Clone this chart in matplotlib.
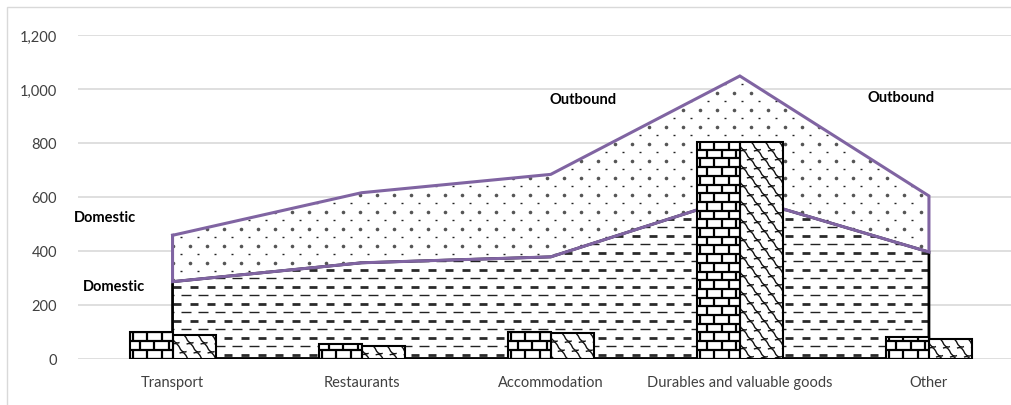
import numpy as np
import matplotlib
matplotlib.use('Agg')
import matplotlib.pyplot as plt
from matplotlib.transforms import IdentityTransform
from matplotlib.collections import LineCollection
from matplotlib.patches import Rectangle
from matplotlib.lines import Line2D
import matplotlib.ticker as mticker

# ---------------- data ----------------
categories = ["Transport", "Restaurants", "Accommodation",
              "Durables and valuable goods", "Other"]
domestic_area = [285, 355, 377, 602, 395]      # lower stacked area
outbound_area = [172, 260, 306, 446, 208]      # upper stacked area
bars_brick = [97, 54, 99, 803, 78]
bars_shingle = [87, 47, 93, 803, 72]
yticks = [0, 200, 400, 600, 800, 1000, 1200]
area_labels = ["Domestic", "Domestic", "Outbound", "Outbound"]

# ---------------- style ----------------
plt.rcParams['font.family'] = ['Lato', 'DejaVu Sans']
PURPLE = '#8064A2'
GRID = '#d9d9d9'
TXT = '#404040'

W, H, DPI = 1011, 406, 100
fig = plt.figure(figsize=(W / DPI, H / DPI), dpi=DPI)
ax = fig.add_axes([78 / W, 46.5 / H, 945.5 / W, 323.5 / H])
ax.set_xlim(-0.5, len(categories) - 0.5)
ax.set_ylim(0, 1200)
ax.autoscale(False)

for s in ax.spines.values():
    s.set_visible(False)
ax.set_yticks(yticks)
ax.yaxis.set_major_formatter(mticker.FuncFormatter(lambda v, p: f"{int(v):,}"))
ax.set_xticks(range(len(categories)))
ax.set_xticklabels(categories)
ax.tick_params(axis='both', length=0, labelsize=10.5, labelcolor=TXT)
ax.tick_params(axis='y', pad=15)
ax.tick_params(axis='x', pad=12)
ax.grid(axis='y', color=GRID, lw=1.2, zorder=0)
ax.set_axisbelow(True)

x = np.arange(len(categories))
dom = np.array(domestic_area, float)
tot = dom + np.array(outbound_area, float)

fig.canvas.draw()
ID = IdentityTransform()


def clip_add(coll, path, trans):
    coll.set_clip_path(path, trans)
    ax.add_collection(coll, autolim=False)


def dash_texture(path, z):
    bb = path.get_extents(ax.transData)
    period, rowh = 17.0, 8.5
    thick, thin = [], []
    r = 0
    y = bb.y0 + 4
    while y < bb.y1 + rowh:
        off = 0 if r % 2 == 0 else period / 2
        xx = bb.x0 - period + off
        while xx < bb.x1 + period:
            if r % 2 == 0:
                thick.append([(xx, y), (xx + 8, y)])
            else:
                thin.append([(xx, y), (xx + 10, y)])
            xx += period
        y += rowh
        r += 1
    clip_add(LineCollection(thick, colors='#2a2a2a', linewidths=2.0,
                            transform=ID, zorder=z), path, ax.transData)
    clip_add(LineCollection(thin, colors='#222222', linewidths=1.0,
                            transform=ID, zorder=z), path, ax.transData)


def dot_texture(path, z):
    bb = path.get_extents(ax.transData)
    period, rowh = 17.0, 8.5
    dots_x, dots_y, small = [], [], []
    r = 0
    y = bb.y0 + 2
    while y < bb.y1 + rowh:
        off = 0 if r % 2 == 0 else period / 2
        xx = bb.x0 - period + off
        while xx < bb.x1 + period:
            if r % 2 == 0:
                dots_x.append(xx)
                dots_y.append(y)
            else:
                small.append([(xx - 1.2, y), (xx + 1.2, y)])
            xx += period
        y += rowh
        r += 1
    ln = Line2D(dots_x, dots_y, ls='none', marker='o', ms=2.6, mfc='#555555',
                mec='#555555', mew=0, transform=ID, zorder=z)
    ln.set_clip_path(path, ax.transData)
    ax.add_line(ln)
    clip_add(LineCollection(small, colors='#222222', linewidths=1.0,
                            transform=ID, zorder=z), path, ax.transData)


def brick_texture(rect, z):
    bb = rect.get_window_extent()
    rowh, bw = 8.7, 14.5
    segs = []
    r = 0
    y = bb.y0
    while y < bb.y1:
        segs.append([(bb.x0 - 2, y), (bb.x1 + 2, y)])
        off = 3 if r % 2 == 0 else 3 + bw / 2
        xx = bb.x0 + off
        while xx < bb.x1:
            segs.append([(xx, y), (xx, y + rowh)])
            xx += bw
        y += rowh
        r += 1
    clip_add(LineCollection(segs, colors='black', linewidths=1.6,
                            transform=ID, zorder=z), rect.get_path(),
             rect.get_transform())


def shingle_texture(rect, z):
    bb = rect.get_window_extent()
    px, py = 14.0, 9.0
    motif = np.array([(0, 0), (2.5, 0.6), (4.5, 0), (6.5, -2.5), (8, -5.5),
                      (10, -7.5), (12.5, -8), (14, -7.4)])
    segs = []
    r = 0
    y = bb.y1 + py
    while y > bb.y0 - 2 * py:
        off = 0 if r % 2 == 0 else px / 2
        xx = bb.x0 - px + off
        while xx < bb.x1 + px:
            segs.append(motif + np.array([xx, y]))
            xx += px
        y -= py
        r += 1
    clip_add(LineCollection(segs, colors='#111111', linewidths=1.0,
                            transform=ID, zorder=z), rect.get_path(),
             rect.get_transform())


# ---------------- areas ----------------
dom_poly = ax.fill_between(x, 0, dom, facecolor='white', edgecolor='none', zorder=1)
out_poly = ax.fill_between(x, dom, tot, facecolor='white', edgecolor='none', zorder=1)
dash_texture(dom_poly.get_paths()[0], 1.1)
dot_texture(out_poly.get_paths()[0], 1.1)

# outlines
ax.plot(np.r_[x[0], x, x[-1], x[::-1], x[0]],
        np.r_[0, dom, 0, np.zeros_like(dom), 0],
        color='black', lw=2.0, zorder=1.5, solid_joinstyle='miter')
ax.plot(np.r_[x, x[::-1], x[0]], np.r_[tot, dom[::-1], tot[0]],
        color=PURPLE, lw=2.2, zorder=1.6, solid_joinstyle='miter')

# ---------------- bars ----------------
bw = 0.2275
b1 = ax.bar(x - bw / 2, bars_brick, width=bw, color='white', edgecolor='none', zorder=3)
b2 = ax.bar(x + bw / 2, bars_shingle, width=bw, color='white', edgecolor='none', zorder=3)
fig.canvas.draw()
for p in b1.patches:
    brick_texture(p, 3.1)
for p in b2.patches:
    shingle_texture(p, 3.1)
ax.bar(x - bw / 2, bars_brick, width=bw, fill=False, edgecolor='black', lw=1.5, zorder=3.2)
ax.bar(x + bw / 2, bars_shingle, width=bw, fill=False, edgecolor='black', lw=1.5, zorder=3.2)

# ---------------- labels ----------------
label_pos = [(-0.521, 524), (-0.475, 268), (1.992, 961), (3.675, 969)]
for txt, (lx, ly) in zip(area_labels, label_pos):
    ax.text(lx, ly, txt, ha='left', va='center', fontsize=10.5,
            fontweight='bold', color='black', zorder=5)

# outer chart frame (left and top visible)
fig.add_artist(Rectangle((7 / W, -0.2), 2.0, 1.2 - 8 / H, transform=fig.transFigure,
                         fill=False, edgecolor=GRID, lw=1.0))

ax.set_xlim(-0.5, len(categories) - 0.5)
ax.set_ylim(0, 1200)
fig.savefig('out.png', dpi=DPI)
